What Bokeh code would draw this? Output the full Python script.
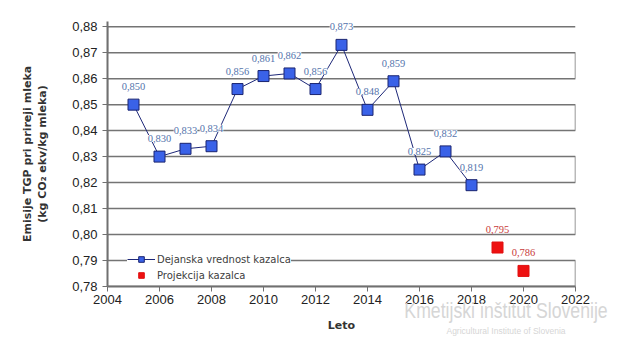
from bokeh.plotting import figure
from bokeh.models import (ColumnDataSource, LabelSet, Legend, LegendItem, FixedTicker,
                          CustomJSTickFormatter, Range1d, Div)
from bokeh.layouts import column
from bokeh.embed import file_html
from bokeh.resources import INLINE

# ---- data ----
years_actual = [2005, 2006, 2007, 2008, 2009, 2010, 2011, 2012, 2013, 2014, 2015, 2016, 2017, 2018]
values_actual = [0.850, 0.830, 0.833, 0.834, 0.856, 0.861, 0.862, 0.856, 0.873, 0.848, 0.859, 0.825, 0.832, 0.819]
years_proj = [2019, 2020]
values_proj = [0.795, 0.786]
x_ticks = [2004, 2006, 2008, 2010, 2012, 2014, 2016, 2018, 2020, 2022]
y_ticks = [0.78, 0.79, 0.80, 0.81, 0.82, 0.83, 0.84, 0.85, 0.86, 0.87, 0.88]

fmt = lambda v: f"{v:.3f}".replace(".", ",")
src_a = ColumnDataSource(dict(x=years_actual, y=values_actual, t=[fmt(v) for v in values_actual]))
src_p = ColumnDataSource(dict(x=years_proj, y=values_proj, t=[fmt(v) for v in values_proj]))

p = figure(width=612, height=350, output_backend="svg", toolbar_location=None,
           x_range=Range1d(x_ticks[0], x_ticks[-1]), y_range=Range1d(0.78, 0.882),
           min_border_left=107, min_border_right=37, min_border_top=21, min_border_bottom=64)
p.outline_line_color = None
p.xgrid.grid_line_color = None
p.ygrid.grid_line_color = None

# gridlines at the y ticks drawn as one serpentine path (its vertical joins fall on
# the left axis and on the right-hand edge of the plot area)
gx, gy = [], []
for i, yt in enumerate(y_ticks):
    ends = [x_ticks[0], x_ticks[-1]] if i % 2 == 0 else [x_ticks[-1], x_ticks[0]]
    gx += ends
    gy += [yt, yt]
p.line(gx, gy, line_color="#747474", line_width=1.5)

# axes
for ax in (p.xaxis, p.yaxis):
    ax.axis_line_color = "#707070"
    ax.axis_line_width = 2
    ax.major_tick_line_color = "#707070"
    ax.major_tick_out = 5
    ax.major_tick_in = 0
    ax.minor_tick_line_color = None
    ax.major_label_text_font = "Liberation Sans"
    ax.major_label_text_font_size = "13px"
    ax.major_label_text_color = "#222222"
    ax.axis_label_text_font = "DejaVu Sans"
    ax.axis_label_text_font_style = "bold"
    ax.axis_label_text_font_size = "11px"
    ax.axis_label_text_color = "#333333"

p.xaxis.ticker = FixedTicker(ticks=x_ticks)
p.yaxis.ticker = FixedTicker(ticks=y_ticks)
p.yaxis.formatter = CustomJSTickFormatter(code="return tick.toFixed(2).replace('.', ',');")
p.xaxis.major_label_standoff = 3
p.yaxis.major_label_standoff = 5
p.xaxis.axis_label = "Leto"
p.xaxis.axis_label_standoff = 12
p.yaxis.axis_label = "Emisije TGP pri prireji mleka\n(kg CO\u2082 ekv/kg mleka)"
p.yaxis.axis_label_standoff = 20

# series
blue_line = p.line("x", "y", source=src_a, line_color="#1e2878", line_width=1)
blue_pts = p.scatter("x", "y", source=src_a, marker="square", size=11,
                     fill_color="#3a62e8", line_color="#1a2470", line_width=1)
red_proxy = p.line(x=[], y=[], line_color="#ee1111", line_width=1)
red_pts = p.scatter("x", "y", source=src_p, marker="square", size=11,
                    fill_color="#ee1111", line_color="#e01010", line_width=1)

lab_a = LabelSet(x="x", y="y", text="t", source=src_a, y_offset=18, text_align="center",
                 text_baseline="middle", text_font="DejaVu Sans", text_font_size="10.5px",
                 text_color="#5474ac", background_fill_color="white")
lab_p = LabelSet(x="x", y="y", text="t", source=src_p, y_offset=18, text_align="center",
                 text_baseline="middle", text_font="DejaVu Sans", text_font_size="10.5px",
                 text_color="#c83a3a", background_fill_color="white")
p.add_layout(lab_a)
p.add_layout(lab_p)

legend = Legend(items=[
    LegendItem(label="Dejanska vrednost kazalca", renderers=[blue_line, blue_pts]),
    LegendItem(label="Projekcija kazalca", renderers=[red_proxy, red_pts]),
], location=(20, 4))
legend.border_line_color = None
legend.background_fill_color = "white"
legend.background_fill_alpha = 1
legend.label_text_font = "DejaVu Sans"
legend.label_text_font_size = "10px"
legend.label_text_color = "#404040"
legend.glyph_width = 28
legend.glyph_height = 14
legend.spacing = 2
legend.padding = 4
legend.label_standoff = 2
p.add_layout(legend)

# watermark below the plot area
wm = Div(text=("<div style='text-align:center;color:#d6d6d6;line-height:1.0;white-space:nowrap;width:224px'>"
               "<div style='font-family:\"Liberation Sans\";font-size:19px;"
               "transform:scale(0.93,1.12);transform-origin:center'>"
               "Kmetijski inštitut Slovenije</div>"
               "<div style='font-family:\"Liberation Sans\";font-size:8.5px;margin-top:7px'>"
               "Agricultural Institute of Slovenia</div></div>"),
         width=224, height=38, margin=(-49, 0, 0, 394))

layout = column(p, wm, spacing=0)
open("out.html", "w").write(file_html(layout, INLINE))
